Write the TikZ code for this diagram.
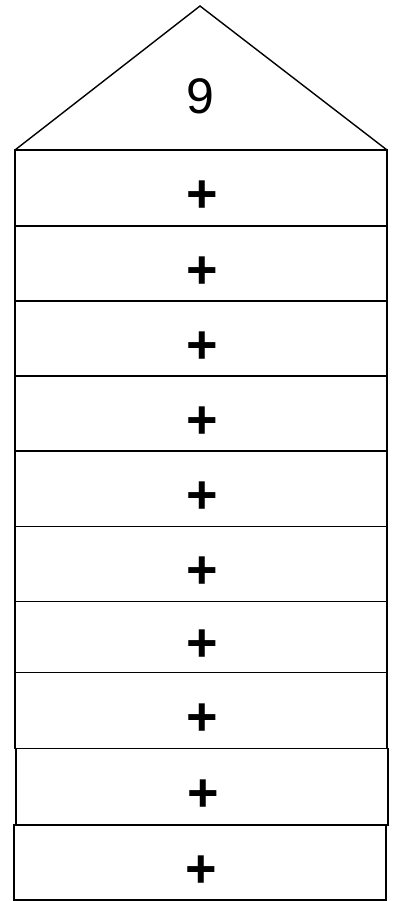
\documentclass[tikz,border=0pt]{standalone}
\usepackage{fontspec}
\setmainfont{Liberation Sans}
\begin{document}
\begin{tikzpicture}[x=1pt,y=-1pt,
  line/.style={line width=1.4pt, line join=miter},
  rowbox/.style={draw, line width=1.4pt, inner sep=0pt, outer sep=0pt},
  plus/.style={inner sep=0pt, font=\fontsize{54}{60}\selectfont\bfseries},
  roofnum/.style={inner sep=0pt, font=\fontsize{50}{60}\selectfont}]
\useasboundingbox[fill=white] (0,0) rectangle (399,901);
\coordinate (rl) at (15,150);
\coordinate (apex) at (200,6);
\coordinate (rr) at (387,150);
\draw[line] (rl) -- (apex) -- (rr);
\node[roofnum] (nine) at (200,96) {9};
\foreach \i/\t/\b/\l/\r in {1/150/226/15/387, 2/226/301/15/387, 3/301/376/15/387,
  4/376/451/15/387, 5/451/526.5/15/387, 6/526.5/601.5/15/387, 7/601.5/672.5/15/387,
  8/672.5/748.5/15/387, 9/748.5/825/16/388, 10/825/900/14/386} {
  \node[rowbox, minimum width={(\r-\l)*1pt}, minimum height={(\b-\t)*1pt}]
    (row\i) at ({(\l+\r)/2}, {(\t+\b)/2}) {};
  \node[plus] (plus\i) at ([shift={(1,9)}]row\i.center) {+};
}
\end{tikzpicture}
\end{document}
